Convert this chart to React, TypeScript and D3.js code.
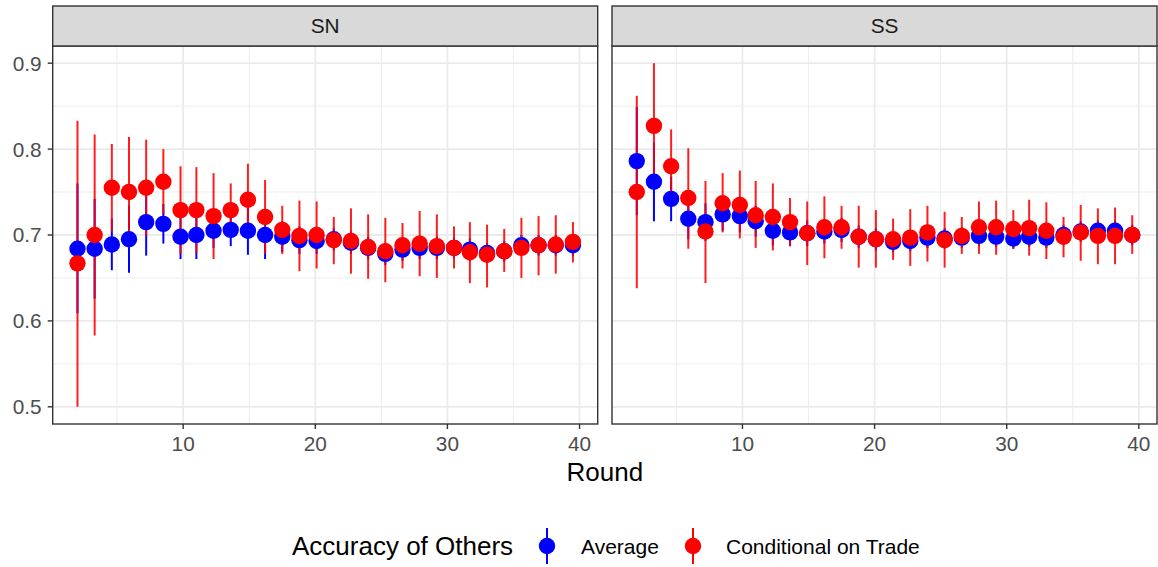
import React from "react";
import * as d3 from "d3";

const rounds = [2.0, 3.3, 4.6, 5.9, 7.2, 8.5, 9.8, 11.0, 12.3, 13.6, 14.9, 16.2, 17.5, 18.8, 20.1, 21.4, 22.7, 24.0, 25.3, 26.6, 27.9, 29.2, 30.5, 31.7, 33.0, 34.3, 35.6, 36.9, 38.2, 39.5];

const panels = ["SN", "SS"];
const seriesNames = ["Average", "Conditional on Trade"];
const seriesColors = ["#0000FF", "#FF0000"];

// SN panel
const snAvg = [0.684, 0.684, 0.689, 0.695, 0.715, 0.713, 0.698, 0.700, 0.705, 0.706, 0.705, 0.700, 0.698, 0.694, 0.693, 0.695, 0.691, 0.685, 0.678, 0.683, 0.685, 0.685, 0.685, 0.683, 0.679, 0.681, 0.688, 0.688, 0.688, 0.688];
const snAvgLo = [0.609, 0.626, 0.659, 0.656, 0.676, 0.690, 0.672, 0.672, 0.685, 0.687, 0.677, 0.672, 0.680, 0.678, 0.678, 0.682, 0.678, 0.672, 0.665, 0.670, 0.672, 0.672, 0.673, 0.670, 0.667, 0.669, 0.676, 0.676, 0.676, 0.676];
const snAvgHi = [0.760, 0.742, 0.719, 0.734, 0.754, 0.736, 0.724, 0.728, 0.725, 0.725, 0.733, 0.728, 0.716, 0.710, 0.708, 0.708, 0.704, 0.698, 0.691, 0.696, 0.698, 0.698, 0.697, 0.696, 0.691, 0.693, 0.700, 0.700, 0.700, 0.700];
const snCond = [0.667, 0.700, 0.755, 0.750, 0.755, 0.762, 0.729, 0.729, 0.722, 0.729, 0.741, 0.721, 0.706, 0.699, 0.700, 0.694, 0.693, 0.686, 0.681, 0.688, 0.690, 0.687, 0.685, 0.680, 0.677, 0.681, 0.685, 0.688, 0.689, 0.692];
const snCondLo = [0.500, 0.583, 0.704, 0.686, 0.699, 0.724, 0.678, 0.679, 0.672, 0.698, 0.699, 0.678, 0.678, 0.658, 0.661, 0.666, 0.655, 0.649, 0.645, 0.661, 0.652, 0.650, 0.661, 0.644, 0.639, 0.657, 0.650, 0.653, 0.655, 0.668];
const snCondHi = [0.833, 0.817, 0.806, 0.814, 0.811, 0.800, 0.780, 0.779, 0.772, 0.760, 0.783, 0.764, 0.734, 0.740, 0.739, 0.721, 0.731, 0.724, 0.720, 0.714, 0.728, 0.724, 0.710, 0.715, 0.712, 0.707, 0.720, 0.722, 0.723, 0.715];

// SS panel
const ssAvg = [0.786, 0.762, 0.742, 0.719, 0.715, 0.724, 0.722, 0.716, 0.705, 0.703, 0.702, 0.704, 0.706, 0.698, 0.695, 0.692, 0.693, 0.697, 0.696, 0.697, 0.699, 0.698, 0.696, 0.698, 0.697, 0.700, 0.704, 0.705, 0.705, 0.700];
const ssAvgLo = [0.723, 0.716, 0.716, 0.695, 0.693, 0.705, 0.703, 0.698, 0.688, 0.687, 0.687, 0.690, 0.692, 0.685, 0.682, 0.680, 0.681, 0.685, 0.684, 0.685, 0.687, 0.686, 0.684, 0.686, 0.685, 0.688, 0.692, 0.693, 0.693, 0.688];
const ssAvgHi = [0.849, 0.808, 0.768, 0.743, 0.737, 0.743, 0.741, 0.734, 0.722, 0.719, 0.717, 0.718, 0.720, 0.711, 0.708, 0.704, 0.705, 0.709, 0.708, 0.709, 0.711, 0.710, 0.708, 0.710, 0.709, 0.712, 0.716, 0.717, 0.717, 0.712];
const ssCond = [0.750, 0.827, 0.780, 0.743, 0.704, 0.737, 0.735, 0.723, 0.721, 0.715, 0.702, 0.709, 0.709, 0.698, 0.695, 0.695, 0.697, 0.703, 0.694, 0.699, 0.709, 0.709, 0.707, 0.708, 0.705, 0.698, 0.703, 0.699, 0.699, 0.700];
const ssCondLo = [0.638, 0.754, 0.737, 0.684, 0.644, 0.703, 0.696, 0.685, 0.682, 0.687, 0.665, 0.673, 0.684, 0.662, 0.662, 0.671, 0.664, 0.669, 0.662, 0.678, 0.678, 0.677, 0.684, 0.676, 0.672, 0.674, 0.670, 0.666, 0.666, 0.678];
const ssCondHi = [0.862, 0.900, 0.823, 0.801, 0.763, 0.772, 0.775, 0.763, 0.760, 0.743, 0.739, 0.745, 0.734, 0.734, 0.729, 0.719, 0.730, 0.734, 0.727, 0.721, 0.739, 0.740, 0.729, 0.741, 0.738, 0.721, 0.735, 0.731, 0.732, 0.723];

const xTicks = [10, 20, 30, 40];
const xMinor = [5, 15, 25, 35];
const yTicks = [0.5, 0.6, 0.7, 0.8, 0.9];
const yMinor = [0.55, 0.65, 0.75, 0.85];

const panelData = [
  [
    { mean: snAvg, lo: snAvgLo, hi: snAvgHi },
    { mean: snCond, lo: snCondLo, hi: snCondHi },
  ],
  [
    { mean: ssAvg, lo: ssAvgLo, hi: ssAvgHi },
    { mean: ssCond, lo: ssCondLo, hi: ssCondHi },
  ],
];

const W = 1158;
const H = 567;
const panelX = [
  [52.7, 597.7],
  [612, 1157],
];
const panelTop = 46;
const panelBottom = 424;
const stripTop = 6;
const FONT = "'Liberation Sans', Arial, Helvetica, sans-serif";

export default function App() {
  const allY = [
    ...snAvgLo, ...snAvgHi, ...snCondLo, ...snCondHi,
    ...ssAvgLo, ...ssAvgHi, ...ssCondLo, ...ssCondHi,
  ];
  const yMin = d3.min(allY) as number;
  const yMax = d3.max(allY) as number;
  const yPad = (yMax - yMin) * 0.05;
  const y = d3.scaleLinear().domain([yMin - yPad, yMax + yPad]).range([panelBottom, panelTop]);

  const xMin = d3.min(rounds) as number;
  const xMax = d3.max(rounds) as number;
  const xPad = (xMax - xMin) * 0.05;

  return (
    <svg width={W} height={H} style={{ position: "absolute", left: 0, top: 0, background: "#fff" }} fontFamily={FONT}>
      <rect x={0} y={0} width={W} height={H} fill="#fff" />
      {panels.map((name, pi) => {
        const [x0, x1] = panelX[pi];
        const x = d3.scaleLinear().domain([xMin - xPad, xMax + xPad]).range([x0, x1]);
        const series = panelData[pi];
        return (
          <g key={name}>
            {/* minor grid */}
            {xMinor.map((t) => (
              <line key={"xm" + t} x1={x(t)} x2={x(t)} y1={panelTop} y2={panelBottom} stroke="#EBEBEB" strokeWidth={0.9} />
            ))}
            {yMinor.map((t) => (
              <line key={"ym" + t} x1={x0} x2={x1} y1={y(t)} y2={y(t)} stroke="#EBEBEB" strokeWidth={0.9} />
            ))}
            {/* major grid */}
            {xTicks.map((t) => (
              <line key={"xg" + t} x1={x(t)} x2={x(t)} y1={panelTop} y2={panelBottom} stroke="#EBEBEB" strokeWidth={1.8} />
            ))}
            {yTicks.map((t) => (
              <line key={"yg" + t} x1={x0} x2={x1} y1={y(t)} y2={y(t)} stroke="#EBEBEB" strokeWidth={1.8} />
            ))}
            {/* error bars */}
            {series.map((s, si) => (
              <g key={"bars" + si} opacity={si === 1 ? 0.88 : 1}>
                {rounds.map((r, i) => (
                  <line key={i} x1={x(r)} x2={x(r)} y1={y(s.lo[i])} y2={y(s.hi[i])} stroke={seriesColors[si]} strokeWidth={2} />
                ))}
              </g>
            ))}
            {/* points */}
            {series.map((s, si) => (
              <g key={"pts" + si}>
                {rounds.map((r, i) => (
                  <circle key={i} cx={x(r)} cy={y(s.mean[i])} r={8.2} fill={seriesColors[si]} />
                ))}
              </g>
            ))}
            {/* panel border */}
            <rect x={x0} y={panelTop} width={x1 - x0} height={panelBottom - panelTop} fill="none" stroke="#333333" strokeWidth={1.4} />
            {/* strip */}
            <rect x={x0} y={stripTop} width={x1 - x0} height={panelTop - stripTop} fill="#D9D9D9" stroke="#333333" strokeWidth={1.4} />
            <text x={(x0 + x1) / 2} y={(stripTop + panelTop) / 2} dy="0.36em" textAnchor="middle" fontSize={20.8} fill="#1A1A1A">
              {name}
            </text>
            {/* x axis */}
            {xTicks.map((t) => (
              <g key={"xt" + t}>
                <line x1={x(t)} x2={x(t)} y1={panelBottom} y2={panelBottom + 5} stroke="#333333" strokeWidth={1.4} />
                <text x={x(t)} y={451} textAnchor="middle" fontSize={20.8} fill="#4D4D4D">
                  {t}
                </text>
              </g>
            ))}
          </g>
        );
      })}
      {/* y axis on left panel */}
      {yTicks.map((t) => (
        <g key={"yt" + t}>
          <line x1={panelX[0][0] - 5} x2={panelX[0][0]} y1={y(t)} y2={y(t)} stroke="#333333" strokeWidth={1.4} />
          <text x={panelX[0][0] - 11} y={y(t)} dy="0.36em" textAnchor="end" fontSize={20.8} fill="#4D4D4D">
            {t.toFixed(1)}
          </text>
        </g>
      ))}
      {/* x axis title */}
      <text x={(panelX[0][0] + panelX[1][1]) / 2} y={480.5} textAnchor="middle" fontSize={26} fill="#000">
        Round
      </text>
      {/* legend */}
      <g>
        <text x={292} y={555} fontSize={26} fill="#000">Accuracy of Others</text>
        {seriesNames.map((nm, i) => {
          const kx = [547, 693][i];
          const tx = [581, 726][i];
          return (
            <g key={nm}>
              <line x1={kx} x2={kx} y1={528} y2={564} stroke={seriesColors[i]} strokeWidth={2} />
              <circle cx={kx} cy={546} r={8.2} fill={seriesColors[i]} />
              <text x={tx} y={553.5} fontSize={21} fill="#000">{nm}</text>
            </g>
          );
        })}
      </g>
    </svg>
  );
}
